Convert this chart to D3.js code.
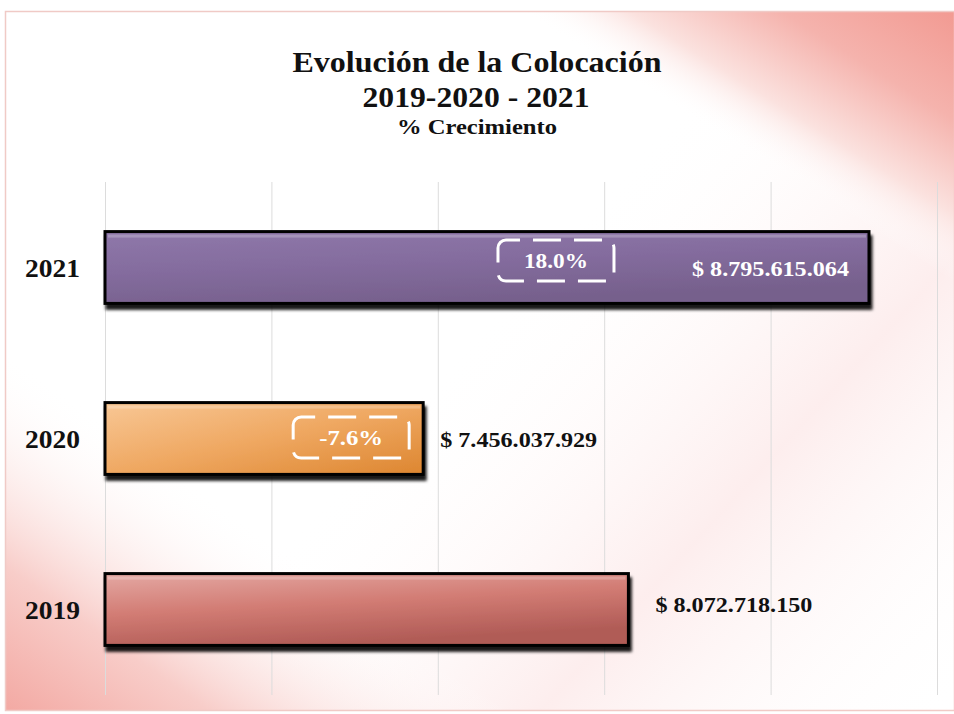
<!DOCTYPE html>
<html>
<head>
<meta charset="utf-8">
<script src="https://cdn.jsdelivr.net/npm/d3@7"></script>
<style>
  html, body { margin: 0; padding: 0; background: #fff; }
  svg { display: block; font-family: "Liberation Serif", "Times New Roman", serif; }
</style>
</head>
<body>
<svg id="chart" width="954" height="714"></svg>
<script>
// data
const years = ["2021", "2020", "2019"];
const amounts = [8795615064, 7456037929, 8072718150];
const growthPct = [18.0, -7.6, null];
const gridTicks = [6.5e9, 7.0e9, 7.5e9, 8.0e9, 8.5e9, 9.0e9];
const barColors = [
  ["#8f78aa", "#846c9e", "#76608c"],
  ["#f8c795", "#efa862", "#dd8630"],
  ["#e4a8a3", "#d27c74", "#b05b56"]
];

const W = 954, H = 714;
const margin = { top: 182, right: 17, bottom: 19, left: 105 };

const svg = d3.select("#chart");
const defs = svg.append("defs");

// background: white with pink corners (top right, bottom left)
const bgTR = defs.append("linearGradient").attr("id", "bgTR").attr("gradientUnits", "userSpaceOnUse")
  .attr("x1", 954).attr("y1", 11).attr("x2", 832).attr("y2", 206);
bgTR.append("stop").attr("offset", "0%").attr("stop-color", "#f29a92");
bgTR.append("stop").attr("offset", "40%").attr("stop-color", "#f5b3ad");
bgTR.append("stop").attr("offset", "75%").attr("stop-color", "#fbe2df");
bgTR.append("stop").attr("offset", "100%").attr("stop-color", "#ffffff").attr("stop-opacity", 0);

const bgBL = defs.append("linearGradient").attr("id", "bgBL").attr("gradientUnits", "userSpaceOnUse")
  .attr("x1", 5).attr("y1", 711).attr("x2", 175).attr("y2", 470);
bgBL.append("stop").attr("offset", "0%").attr("stop-color", "#f3a9a3");
bgBL.append("stop").attr("offset", "40%").attr("stop-color", "#f8cdc9");
bgBL.append("stop").attr("offset", "100%").attr("stop-color", "#ffffff").attr("stop-opacity", 0);

const bgMid = defs.append("linearGradient").attr("id", "bgMid").attr("gradientUnits", "userSpaceOnUse")
  .attr("x1", 500).attr("y1", 300).attr("x2", 954).attr("y2", 714);
bgMid.append("stop").attr("offset", "0%").attr("stop-color", "#fff").attr("stop-opacity", 0);
bgMid.append("stop").attr("offset", "50%").attr("stop-color", "#fce6e6").attr("stop-opacity", 0.7);
bgMid.append("stop").attr("offset", "100%").attr("stop-color", "#fff").attr("stop-opacity", 0);

svg.append("rect").attr("width", W).attr("height", H).attr("fill", "#fff");
const frame = { x: 5, y: 11, w: W - 5, h: 700 };
["bgMid", "bgTR", "bgBL"].forEach(id => {
  svg.append("rect").attr("x", frame.x).attr("y", frame.y).attr("width", frame.w).attr("height", frame.h)
    .attr("fill", `url(#${id})`);
});
svg.append("rect").attr("x", frame.x + 0.5).attr("y", frame.y + 0.5).attr("width", frame.w).attr("height", frame.h - 1)
  .attr("fill", "none").attr("stroke", "#f0cac6").attr("stroke-width", 1.5);

// title
const title = svg.append("g").attr("text-anchor", "middle").attr("font-weight", "bold").attr("fill", "#111");
title.append("text").attr("x", 477).attr("y", 72).attr("font-size", 29)
  .attr("textLength", 369).attr("lengthAdjust", "spacingAndGlyphs").text("Evolución de la Colocación");
title.append("text").attr("x", 476).attr("y", 107).attr("font-size", 29)
  .attr("textLength", 227).attr("lengthAdjust", "spacingAndGlyphs").text("2019-2020 - 2021");
title.append("text").attr("x", 477).attr("y", 134).attr("font-size", 20)
  .attr("textLength", 160).attr("lengthAdjust", "spacingAndGlyphs").text("% Crecimiento");

// scales
const x = d3.scaleLinear().domain([6.5e9, 9.0e9]).range([margin.left, W - margin.right]);
const y = d3.scaleBand().domain(years).range([margin.top, H - margin.bottom]).paddingInner(0.58).paddingOuter(0.29);

// gridlines
svg.append("g")
  .attr("transform", `translate(0,${H - margin.bottom})`)
  .call(d3.axisBottom(x).tickValues(gridTicks).tickSize(-(H - margin.top - margin.bottom)).tickFormat(""))
  .call(g => g.select(".domain").remove())
  .call(g => g.selectAll(".tick line").attr("stroke", "#dcdcdc").attr("stroke-width", 1));

// bar gradients + shadow
years.forEach((yr, i) => {
  const g = defs.append("linearGradient").attr("id", "bar" + i)
    .attr("x1", "0%").attr("y1", "0%").attr("x2", i === 1 ? "100%" : "40%").attr("y2", "100%");
  g.append("stop").attr("offset", "0%").attr("stop-color", barColors[i][0]);
  g.append("stop").attr("offset", "50%").attr("stop-color", barColors[i][1]);
  g.append("stop").attr("offset", "100%").attr("stop-color", barColors[i][2]);
});
const shadow = defs.append("filter").attr("id", "shadow").attr("x", "-5%").attr("y", "-20%").attr("width", "115%").attr("height", "160%");
shadow.append("feDropShadow").attr("dx", 2).attr("dy", 5).attr("stdDeviation", 1.6)
  .attr("flood-color", "#000").attr("flood-opacity", 0.9);

const x0 = x(gridTicks[0]);
const bars = svg.append("g");
bars.selectAll("rect.bar")
  .data(years)
  .join("rect")
  .attr("class", "bar")
  .attr("x", x0)
  .attr("y", d => y(d))
  .attr("width", (d, i) => x(amounts[i]) - x0)
  .attr("height", y.bandwidth())
  .attr("fill", (d, i) => `url(#bar${i})`)
  .attr("stroke", "#000")
  .attr("stroke-width", 3)
  .attr("filter", "url(#shadow)");

// bevel highlight
bars.selectAll("rect.hl")
  .data(years)
  .join("rect")
  .attr("class", "hl")
  .attr("x", x0 + 3)
  .attr("y", d => y(d) + 3)
  .attr("width", (d, i) => x(amounts[i]) - x0 - 6)
  .attr("height", 3)
  .attr("fill", "#fff")
  .attr("opacity", 0.22);

// year labels
svg.append("g").attr("font-weight", "bold").attr("font-size", 26).attr("text-anchor", "end").attr("fill", "#111")
  .selectAll("text")
  .data(years)
  .join("text")
  .attr("x", margin.left - 25)
  .attr("y", d => y(d) + y.bandwidth() / 2 + 9)
  .attr("textLength", 55).attr("lengthAdjust", "spacingAndGlyphs")
  .text(d => d);

// value labels
const loc = d3.formatLocale({ decimal: ",", thousands: ".", grouping: [3], currency: ["$ ", ""] });
const fmt = loc.format("$,d");
const inside = [true, false, false];
const labelGap = [20, 17, 27];
svg.append("g").attr("font-weight", "bold").attr("font-size", 22)
  .selectAll("text")
  .data(years)
  .join("text")
  .attr("x", (d, i) => inside[i] ? x(amounts[i]) - labelGap[i] : x(amounts[i]) + labelGap[i])
  .attr("y", (d, i) => y(d) + y.bandwidth() / 2 + (i === 2 ? 2 : 8))
  .attr("text-anchor", (d, i) => inside[i] ? "end" : "start")
  .attr("fill", (d, i) => inside[i] ? "#fff" : "#111")
  .attr("textLength", 157).attr("lengthAdjust", "spacingAndGlyphs")
  .text((d, i) => fmt(amounts[i]));

// growth boxes (offset from bar end)
const boxShift = [313, 72, 0];
const boxW = 116, boxH = 41;
const growth = svg.append("g");
years.forEach((yr, i) => {
  if (growthPct[i] == null) return;
  const cx = x(amounts[i]) - boxShift[i];
  const cy = y(yr) + y.bandwidth() / 2 - (i === 0 ? 7 : 1);
  growth.append("rect")
    .attr("x", cx - boxW / 2).attr("y", cy - boxH / 2)
    .attr("width", boxW).attr("height", boxH)
    .attr("rx", 8)
    .attr("fill", "none")
    .attr("stroke", "#fff")
    .attr("stroke-width", 3)
    .attr("stroke-dasharray", "28 13")
    .attr("stroke-dashoffset", 14);
  growth.append("text")
    .attr("x", cx).attr("y", cy + 7)
    .attr("text-anchor", "middle")
    .attr("fill", "#fff")
    .attr("font-size", 21)
    .attr("font-weight", "bold")
    .attr("textLength", 64).attr("lengthAdjust", "spacingAndGlyphs")
    .text(growthPct[i].toFixed(1) + "%");
});
</script>
</body>
</html>
